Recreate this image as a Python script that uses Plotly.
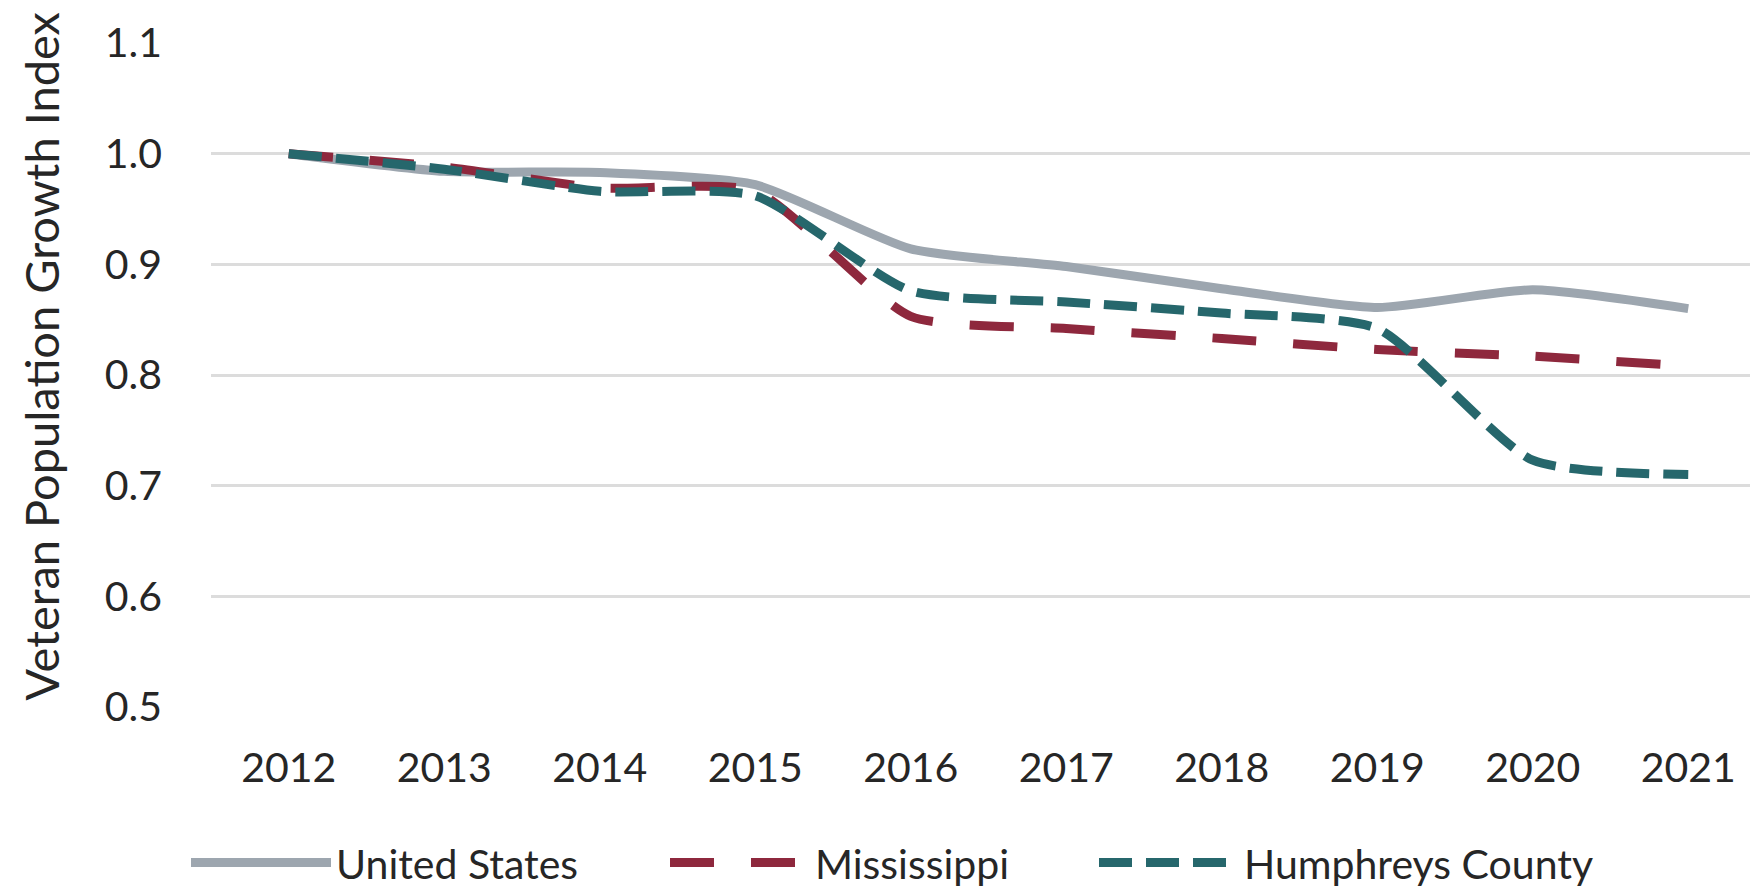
import plotly.graph_objects as go

years = ["2012", "2013", "2014", "2015", "2016", "2017", "2018", "2019", "2020", "2021"]
united_states = [1.000, 0.984, 0.983, 0.972, 0.914, 0.898, 0.878, 0.861, 0.877, 0.860]
mississippi = [1.000, 0.988, 0.969, 0.966, 0.853, 0.842, 0.833, 0.823, 0.817, 0.808]
humphreys = [1.000, 0.986, 0.966, 0.962, 0.876, 0.866, 0.856, 0.842, 0.723, 0.710]

y_ticks = [0.5, 0.6, 0.7, 0.8, 0.9, 1.0, 1.1]
y_title = "Veteran Population Growth Index"

FONT = "Lato"
FS = 41
TXT = "#262626"

fig = go.Figure()
fig.add_trace(go.Scatter(
    x=years, y=united_states, name="United States", mode="lines",
    line=dict(color="#9da6af", width=9, shape="spline", smoothing=0.6),
    legend="legend", showlegend=True,
))
fig.add_trace(go.Scatter(
    x=years, y=mississippi, name="Mississippi", mode="lines",
    line=dict(color="#8e283d", width=9, shape="spline", smoothing=0.6, dash="44px,37px"),
    legend="legend2", showlegend=True,
))
fig.add_trace(go.Scatter(
    x=years, y=humphreys, name="Humphreys County", mode="lines",
    line=dict(color="#26676c", width=9, shape="spline", smoothing=0.6, dash="33px,14px"),
    legend="legend3", showlegend=True,
))

L, R, T, B = 203, 0, 35, 181
PW, PH = 1758 - L - R, 889 - T - B


def px_x(x):
    return (x - L) / PW


def px_y(y):
    return (889 - B - y) / PH


leg_common = dict(
    orientation="h", xref="paper", yref="paper", yanchor="middle", y=px_y(866),
    xanchor="left", font=dict(family=FONT, size=FS, color=TXT), itemwidth=140,
    bgcolor="rgba(0,0,0,0)", borderwidth=0, visible=True,
)

fig.update_layout(
    width=1758, height=889,
    margin=dict(l=L, r=R, t=T, b=B),
    paper_bgcolor="white", plot_bgcolor="white",
    font=dict(family=FONT, size=FS, color=TXT),
    showlegend=True,
    legend=dict(x=px_x(178), **leg_common),
    legend2=dict(x=px_x(657), **leg_common),
    legend3=dict(x=px_x(1086), **leg_common),
    xaxis=dict(
        type="category", range=[-0.5, 9.5], showgrid=False, zeroline=False, showline=False,
        ticks="", tickfont=dict(family=FONT, size=FS, color=TXT), ticklabelstandoff=33,
    ),
    yaxis=dict(
        range=[0.5, 1.1], tickvals=y_ticks, ticktext=[f"{v:.1f}" for v in y_ticks],
        showgrid=True, gridcolor="#dcdcdc", gridwidth=3, zeroline=False, showline=False,
        ticks="", tickfont=dict(family=FONT, size=FS, color=TXT), ticklabelstandoff=48,
    ),
    annotations=[dict(
        text=y_title, textangle=-90, xref="paper", yref="paper",
        x=px_x(33), y=px_y(353), xanchor="center", yanchor="middle", showarrow=False,
        font=dict(family=FONT, size=47, color=TXT),
    )],
)

fig.write_html("out.html")
